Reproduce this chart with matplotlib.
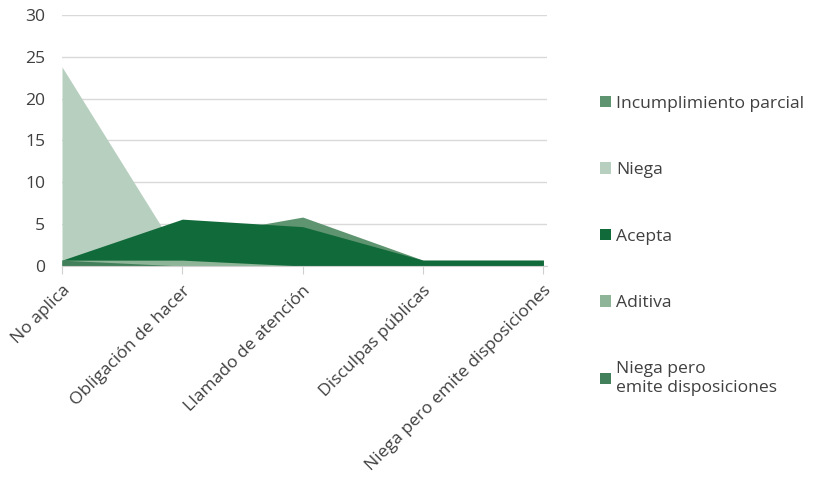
import matplotlib.pyplot as plt
import numpy as np
from matplotlib.patches import Patch

plt.rcParams['font.family'] = ['Open Sans', 'DejaVu Sans']
plt.rcParams['font.size'] = 12.6

categorias = ['No aplica', 'Obligación de hacer', 'Llamado de atención',
              'Disculpas públicas', 'Niega pero emite disposiciones']

# valores (orden de dibujo: primero queda al fondo)
incumplimiento = [0.7, 3.3, 5.85, 0.7, 0.7]
niega = [23.8, 0.7, 0, 0, 0]
acepta = [0.7, 5.6, 4.7, 0.7, 0.7]
aditiva = [0.7, 0.7, 0, 0, 0]
niega_pero = [0.7, 0, 0, 0, 0]

series = [
    ('Incumplimiento parcial', incumplimiento, '#5e9470'),
    ('Niega', niega, '#b7cfbf'),
    ('Acepta', acepta, '#116a3a'),
    ('Aditiva', aditiva, '#8fb598'),
    ('Niega pero\nemite disposiciones', niega_pero, '#41805a'),
]

fig = plt.figure(figsize=(8.15, 4.9), dpi=100)
ax = fig.add_axes([62 / 815, 1 - 266 / 490, 485 / 815, 251 / 490])

x = np.arange(len(categorias))
for i, (nombre, vals, color) in enumerate(series):
    ax.fill_between(x, 0, vals, color=color, linewidth=0, zorder=2 + i)

ax.set_xlim(0, 4.03)
ax.set_ylim(0, 30)
ax.set_yticks(range(0, 31, 5))
ax.yaxis.grid(True, color='#d9d9d9', linewidth=1)
ax.set_axisbelow(True)
for s in ['top', 'right', 'left']:
    ax.spines[s].set_visible(False)
ax.spines['bottom'].set_color('#d0d0d0')
ax.spines['bottom'].set_zorder(10)

ax.set_xticks(x)
ax.set_xticklabels(categorias, rotation=45, ha='right', va='top',
                   rotation_mode='anchor')
ax.tick_params(axis='x', length=6, color='#d0d0d0', labelcolor='#404040', pad=6)
ax.tick_params(axis='y', length=0, labelcolor='#404040', pad=12)

handles = [Patch(facecolor=c, edgecolor='none') for _, _, c in series]
labels = [n for n, _, _ in series]
leg = fig.legend(handles, labels, loc='upper left',
                 bbox_to_anchor=(584 / 815, 1 - 80 / 490), frameon=False,
                 handlelength=0.65, handleheight=0.65, handletextpad=0.3,
                 labelspacing=2.88, labelcolor='#404040')

plt.savefig('out.png', dpi=100)
